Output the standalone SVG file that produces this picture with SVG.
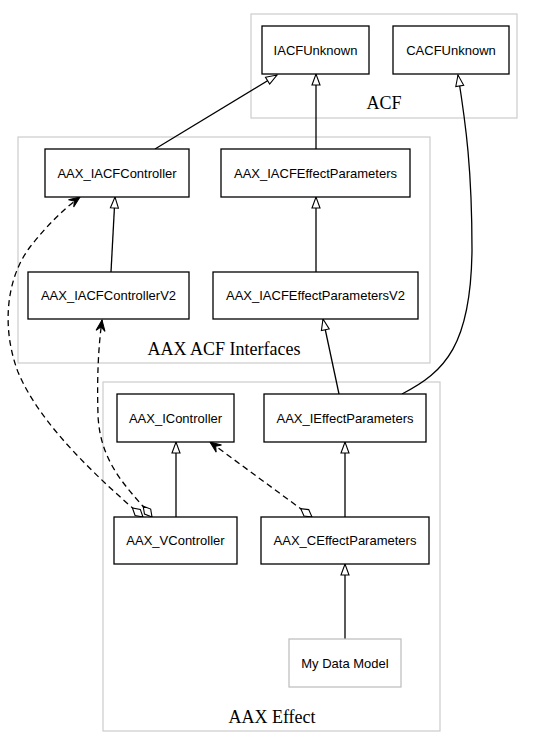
<svg xmlns="http://www.w3.org/2000/svg" width="533" height="749" viewBox="0 0 533 749">
<style>
.cluster{fill:none;stroke:#cccccc;stroke-width:1.2}
.clabel{font-family:"Liberation Serif","Times New Roman",serif;font-size:18px;fill:#000;text-anchor:middle}
.box{fill:#fff;stroke:#000;stroke-width:1.3}
.gbox{fill:#fff;stroke:#bbbbbb;stroke-width:1.2}
.lbl{font-family:"Liberation Sans",Arial,Helvetica,sans-serif;font-size:13px;fill:#000;text-anchor:middle}
.edge{fill:none;stroke:#000;stroke-width:1.3}
.inh{marker-end:url(#tri)}
.dep{stroke-dasharray:6,4;marker-start:url(#dia);marker-end:url(#vee)}
</style>
<defs>
<marker id="tri" markerUnits="userSpaceOnUse" markerWidth="12" markerHeight="10" refX="11" refY="5" orient="auto" overflow="visible">
<path d="M0,1 L11,5 L0,9 Z" fill="#fff" stroke="#000" stroke-width="1.1"/>
</marker>
<marker id="vee" markerUnits="userSpaceOnUse" markerWidth="12" markerHeight="10" refX="11" refY="5" orient="auto" overflow="visible">
<path d="M0,0.5 L11,5 L0,9.5 L4,5 Z" fill="#000" stroke="#000" stroke-width="1"/>
</marker>
<marker id="dia" markerUnits="userSpaceOnUse" markerWidth="16" markerHeight="10" refX="0" refY="5" orient="auto" overflow="visible">
<path d="M0,5 L7,1 L14,5 L7,9 Z" fill="#fff" stroke="#000" stroke-width="1.1"/>
</marker>
</defs>

<g id="cluster_acf">
<rect class="cluster" x="251" y="14" width="266" height="104"/>
<text class="clabel" x="384" y="109">ACF</text>
</g>
<g id="cluster_aax_acf_interfaces">
<rect class="cluster" x="18" y="137" width="412" height="226"/>
<text class="clabel" x="224" y="355">AAX ACF Interfaces</text>
</g>
<g id="cluster_aax_effect">
<rect class="cluster" x="103" y="382" width="337" height="349"/>
<text class="clabel" x="272" y="723">AAX Effect</text>
</g>

<g id="connectors">
<path class="edge inh" d="M155,149 L277,75"/>
<path class="edge inh" d="M316,149 L316,74"/>
<path class="edge inh" d="M402,394 C445,372 471,345 472,250 C472,170 466,125 458,75"/>
<path class="edge inh" d="M111,272 L115,197"/>
<path class="edge inh" d="M316,272 L316,197"/>
<path class="edge inh" d="M339,394 L323,319"/>
<path class="edge inh" d="M176,517 L176,442"/>
<path class="edge inh" d="M345,517 L345,442"/>
<path class="edge inh" d="M345,639 L345,564"/>
<path class="edge dep" d="M312,517 L210,442"/>
<path class="edge dep" d="M143,517 C100,480 40,425 18,372 C2,330 5,280 30,247 C45,228 62,210 80,197"/>
<path class="edge dep" d="M152,517 C130,490 100,465 98,415 C97,380 98,350 102,320"/>
</g>

<g id="IACFUnknown">
<rect class="box" x="262" y="26" width="107" height="48"/>
<text class="lbl" x="315.5" y="54.5">IACFUnknown</text>
</g>
<g id="CACFUnknown">
<rect class="box" x="393" y="26" width="116" height="48"/>
<text class="lbl" x="451" y="54.5">CACFUnknown</text>
</g>
<g id="AAX_IACFController">
<rect class="box" x="45" y="149" width="144" height="48"/>
<text class="lbl" x="117" y="177.5">AAX_IACFController</text>
</g>
<g id="AAX_IACFEffectParameters">
<rect class="box" x="221" y="149" width="189" height="48"/>
<text class="lbl" x="315.5" y="177.5">AAX_IACFEffectParameters</text>
</g>
<g id="AAX_IACFControllerV2">
<rect class="box" x="28" y="272" width="161" height="47"/>
<text class="lbl" x="108.5" y="300">AAX_IACFControllerV2</text>
</g>
<g id="AAX_IACFEffectParametersV2">
<rect class="box" x="213" y="272" width="205" height="47"/>
<text class="lbl" x="315.5" y="300">AAX_IACFEffectParametersV2</text>
</g>
<g id="AAX_IController">
<rect class="box" x="117" y="394" width="117" height="48"/>
<text class="lbl" x="175.5" y="422.5">AAX_IController</text>
</g>
<g id="AAX_IEffectParameters">
<rect class="box" x="264" y="394" width="162" height="48"/>
<text class="lbl" x="345" y="422.5">AAX_IEffectParameters</text>
</g>
<g id="AAX_VController">
<rect class="box" x="114" y="517" width="123" height="47"/>
<text class="lbl" x="175.5" y="545">AAX_VController</text>
</g>
<g id="AAX_CEffectParameters">
<rect class="box" x="261" y="517" width="168" height="47"/>
<text class="lbl" x="345" y="545">AAX_CEffectParameters</text>
</g>
<g id="MyDataModel">
<rect class="gbox" x="289" y="639" width="112" height="48"/>
<text class="lbl" x="345" y="667.5">My Data Model</text>
</g>
</svg>
